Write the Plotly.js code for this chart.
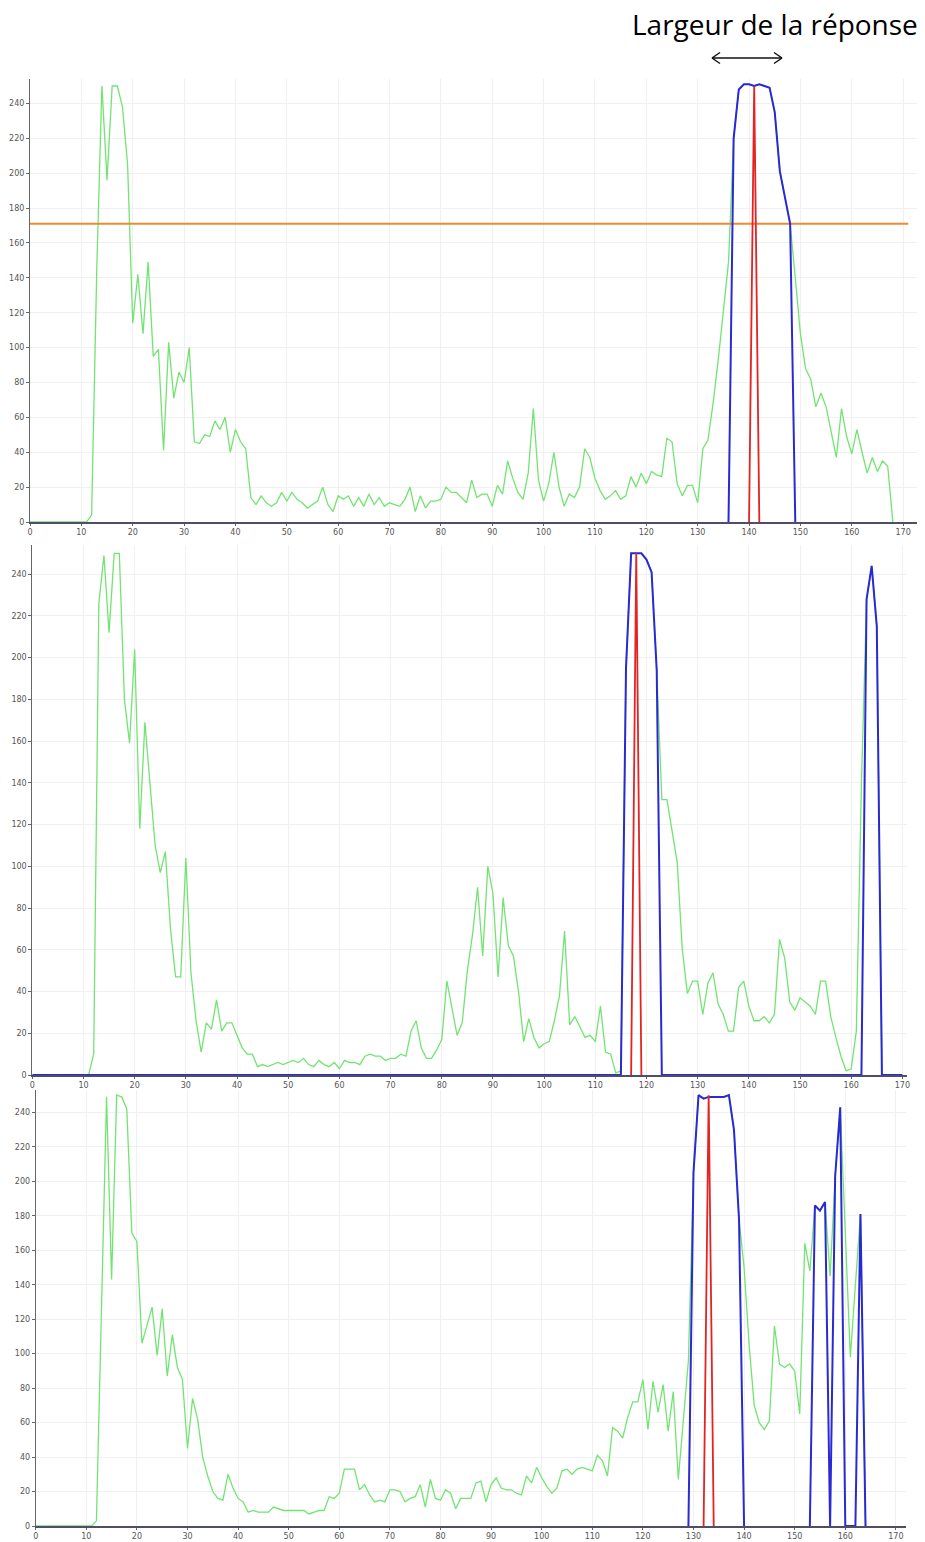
<!DOCTYPE html>
<html>
<head>
<meta charset="utf-8">
<script src="https://cdn.plot.ly/plotly-3.0.1.min.js"></script>
<style>html,body{margin:0;padding:0;background:#fff;}#chart{width:925px;height:1542px;}</style>
</head>
<body>
<div id="chart"></div>
<script>
// ---------- DATA ----------
// Panel 1 : signal (x = 0,1,2,...)
const green1 = [0,0,0,0,0,0,0,0,0,0,0,0,4,145,250,196,250,250,238,205,
  114,142,108,149,95,99,41,103,71,86,80,100,46,45,50,49,58,53,60,40,
  53,46,42,14,10,15,11,9,11,17,12,17,13,11,8,10,12,20,10,6,
  15,13,15,9,14,9,16,10,14,9,11,10,9,13,20,6,15,8,12,12,
  13,20,17,17,14,11,24,14,16,16,9,21,16,35,25,17,13,28,65,24,
  12,22,40,20,9,16,14,20,42,37,25,18,13,15,18,13,15,26,20,28,
  22,29,27,26,48,46,22,15,21,21,11,42,47,68,93,120,149,220,248,251,
  251,250,251,250,249,235,201,186,171,140,108,88,82,66,74,66,51,37,65,49,
  39,53,40,28,37,29,35,32,0];
const blueX1 = [136,137,138,139,140,141,142,143,144,145,146,147,148,149];
const blueY1 = [0,220,248,251,251,250,251,250,249,235,201,186,171,0];
const redX1 = [140,141,142];
const redY1 = [0,250,0];
const thresholdX1 = [0,171];
const thresholdY1 = [171,171];

// Panel 2
const green2 = [0,0,0,0,0,0,0,0,0,0,0,0,10,226,249,212,250,250,180,159,
  204,118,169,140,110,97,107,70,47,47,104,49,26,11,25,22,36,21,25,25,
  19,13,10,10,4,5,4,5,6,5,6,7,6,8,5,4,7,5,4,6,
  3,7,6,6,5,9,10,9,9,7,8,8,10,9,21,26,13,8,8,12,
  17,45,32,19,25,50,67,90,57,100,87,47,85,62,57,40,16,27,18,13,
  15,16,26,38,69,24,28,23,18,19,16,33,11,10,1,2,195,250,250,250,
  247,241,194,132,132,117,102,60,39,45,45,29,44,49,34,29,21,21,42,45,
  33,26,26,28,25,29,65,56,35,31,37,35,33,29,45,45,28,18,9,2,
  3,21,140,228,244,215,0];
const blueX2 = [0,115,116,117,118,119,120,121,122,123,162,163,164,165,166,170];
const blueY2 = [0,0,195,250,250,250,247,241,194,0,0,228,244,215,0,0];
const redX2 = [117,118,119];
const redY2 = [0,250,0];

// Panel 3
const green3 = [0,0,0,0,0,0,0,0,0,0,0,0,3,125,249,143,250,249,242,170,
  165,106,116,127,99,126,87,111,92,85,45,74,62,40,29,20,16,15,30,22,
  16,14,8,9,8,8,8,11,10,9,9,9,9,9,7,8,9,9,17,16,
  19,33,33,33,21,24,18,14,15,14,21,21,20,14,16,17,24,11,27,16,
  15,21,19,10,16,16,16,25,26,14,24,28,22,21,21,19,18,29,25,34,
  28,23,19,22,32,33,30,33,34,33,32,41,38,29,57,55,51,63,72,72,
  85,56,84,66,82,55,78,27,62,96,205,250,248,249,249,249,249,250,230,178,
  150,105,70,60,56,61,116,94,92,94,90,65,164,148,186,183,188,145,203,243,
  166,98,140,181,0];
const blueX3 = [129,130,131,132,133,134,135,136,137,138,139,140,null,153,154,155,156,157,158,159,160,161,162,163,164];
const blueY3 = [0,205,250,248,249,249,249,249,250,230,178,0,null,0,186,183,188,0,203,243,0,0,0,181,0];
const redX3 = [132,133,134];
const redY3 = [0,250,0];

const titleText = "Largeur de la réponse";

// ---------- STYLE ----------
const W = 925, H = 1542;
const GREEN = '#72e472', BLUE = '#2a2ad4', RED = '#e42323', ORANGE = '#ef8a2e';
const px = x => x / W;
const py = y => 1 - y / H;

function line(x, y, color, width, xa, ya) {
  return {type:'scatter', mode:'lines', x:x, y:y, xaxis:xa, yaxis:ya,
    line:{color:color, width:width}, hoverinfo:'skip', showlegend:false, connectgaps:false};
}
function seq(y, color, width, xa, ya) {
  return {type:'scatter', mode:'lines', x0:0, dx:1, y:y, xaxis:xa, yaxis:ya,
    line:{color:color, width:width}, hoverinfo:'skip', showlegend:false};
}

const traces = [
  seq(green1, GREEN, 1.3, 'x', 'y'),
  line(thresholdX1, thresholdY1, ORANGE, 2, 'x', 'y'),
  line(blueX1, blueY1, BLUE, 2, 'x', 'y'),
  line(redX1, redY1, RED, 1.8, 'x', 'y'),
  seq(green2, GREEN, 1.3, 'x2', 'y2'),
  line(blueX2, blueY2, BLUE, 2, 'x2', 'y2'),
  line(redX2, redY2, RED, 1.8, 'x2', 'y2'),
  seq(green3, GREEN, 1.3, 'x3', 'y3'),
  line(blueX3, blueY3, BLUE, 2, 'x3', 'y3'),
  line(redX3, redY3, RED, 1.8, 'x3', 'y3')
];

const tickFont = {family:'DejaVu Sans, Liberation Sans, sans-serif', size:8, color:'#555'};
function xax(domain, range, anchor) {
  return {domain:domain, range:range, anchor:anchor, tick0:0, dtick:10, ticks:'outside', ticklen:2,
    tickcolor:'#666', tickfont:tickFont, showline:true, linecolor:'#4e4e66', linewidth:1.6,
    showgrid:true, gridcolor:'#f0f0f0', gridwidth:1, zeroline:false, fixedrange:true};
}
function yax(domain, range, anchor) {
  return {domain:domain, range:range, anchor:anchor, tick0:0, dtick:20, ticks:'outside', ticklen:3,
    tickcolor:'#666', tickfont:tickFont, showline:true, linecolor:'#666', linewidth:1,
    showgrid:true, gridcolor:'#f0f0f0', gridwidth:1, zeroline:false, fixedrange:true};
}

const layout = {
  width: W, height: H, autosize:false,
  margin:{l:0, r:0, t:0, b:0, pad:0},
  paper_bgcolor:'#fff', plot_bgcolor:'#fff',
  showlegend:false,
  xaxis:  xax([px(30), px(917)], [0, 172.7], 'y'),
  yaxis:  yax([py(522), py(79)], [0, 254], 'x'),
  xaxis2: xax([px(32.3), px(907)], [0, 170.9], 'y2'),
  yaxis2: yax([py(1075), py(545)], [0, 254], 'x2'),
  xaxis3: xax([px(35.7), px(906)], [0, 172], 'y3'),
  yaxis3: yax([py(1526), py(1090)], [0, 253], 'x3'),
  annotations:[
    {text:titleText, xref:'paper', yref:'paper', x:px(775), y:py(24), xanchor:'center', yanchor:'middle',
     showarrow:false, font:{family:'Open Sans, sans-serif', size:28, color:'#000'}}
  ],
  shapes:[
    {type:'line', xref:'paper', yref:'paper', x0:px(712), y0:py(58), x1:px(782), y1:py(58), line:{color:'#111', width:1.5}},
    {type:'line', xref:'paper', yref:'paper', x0:px(712), y0:py(58), x1:px(720), y1:py(52.5), line:{color:'#111', width:1.5}},
    {type:'line', xref:'paper', yref:'paper', x0:px(712), y0:py(58), x1:px(720), y1:py(63.5), line:{color:'#111', width:1.5}},
    {type:'line', xref:'paper', yref:'paper', x0:px(782), y0:py(58), x1:px(774), y1:py(52.5), line:{color:'#111', width:1.5}},
    {type:'line', xref:'paper', yref:'paper', x0:px(782), y0:py(58), x1:px(774), y1:py(63.5), line:{color:'#111', width:1.5}}
  ]
};

Plotly.newPlot('chart', traces, layout, {staticPlot:true, displayModeBar:false});
</script>
</body>
</html>
